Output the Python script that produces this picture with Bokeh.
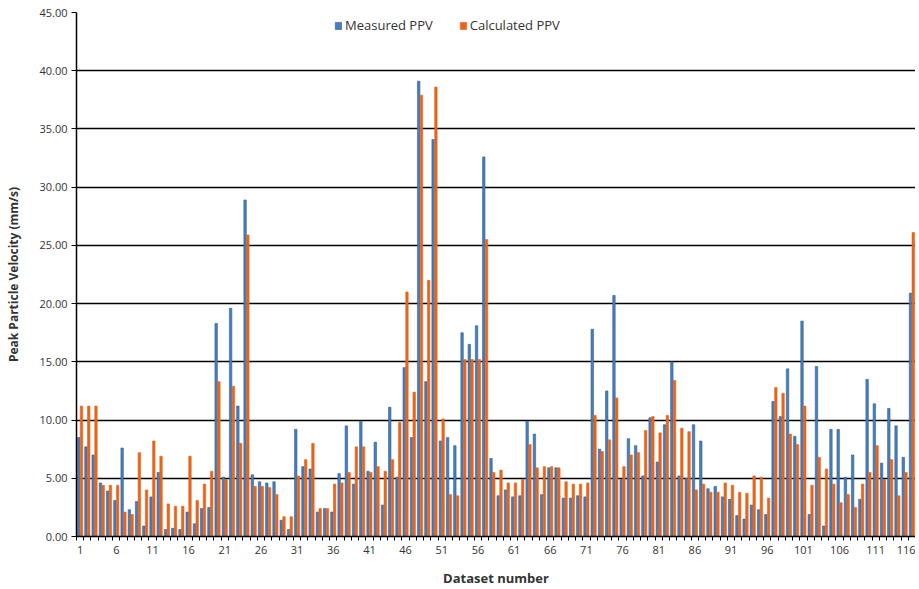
from bokeh.plotting import figure
from bokeh.models import ColumnDataSource, FixedTicker, Range1d, Legend, LegendItem, NumeralTickFormatter
from bokeh.embed import file_html
from bokeh.resources import INLINE

dataset = list(range(1, 117))
measured = [8.5, 7.7, 7.0, 4.6, 3.9, 3.1, 7.6, 2.3, 3.0, 0.9,
            3.4, 5.5, 0.6, 0.7, 0.6, 2.1, 1.1, 2.4, 2.5, 18.3,
            5.1, 19.6, 11.2, 28.9, 5.3, 4.7, 4.6, 4.7, 1.4, 0.6,
            9.2, 6.0, 5.8, 2.1, 2.4, 2.1, 5.4, 9.5, 4.5, 9.9,
            5.6, 8.1, 2.7, 11.1, 5.1, 14.5, 8.5, 39.1, 13.3, 34.1,
            8.2, 8.5, 7.8, 17.5, 16.5, 18.1, 32.6, 6.7, 3.5, 4.0,
            3.4, 3.5, 9.9, 8.8, 3.6, 5.9, 5.9, 3.3, 3.3, 3.5,
            3.4, 17.8, 7.5, 12.5, 20.7, 4.9, 8.4, 7.8, 5.2, 10.2,
            6.4, 9.6, 15.0, 5.2, 5.0, 9.6, 8.2, 4.1, 4.3, 3.4,
            3.2, 1.8, 1.5, 2.7, 2.3, 1.9, 11.6, 10.3, 14.4, 8.6,
            18.5, 1.9, 14.6, 0.9, 9.2, 9.2, 5.1, 7.0, 3.2, 13.5,
            11.4, 6.3, 11.0, 9.5, 6.8, 20.9]
calculated = [11.2, 11.2, 11.2, 4.4, 4.4, 4.4, 2.1, 1.9, 7.2, 4.0,
              8.2, 6.9, 2.8, 2.6, 2.6, 6.9, 3.1, 4.5, 5.6, 13.3,
              4.9, 12.9, 8.0, 25.9, 4.3, 4.3, 4.2, 3.6, 1.7, 1.7,
              5.2, 6.6, 8.0, 2.4, 2.4, 4.5, 4.6, 5.5, 7.7, 7.7,
              5.5, 6.0, 5.6, 6.6, 9.8, 21.0, 12.4, 37.9, 22.0, 38.6,
              10.1, 3.6, 3.5, 15.2, 15.2, 15.2, 25.5, 5.5, 5.7, 4.6,
              4.6, 4.9, 7.9, 5.9, 6.0, 6.0, 5.9, 4.7, 4.5, 4.5,
              4.6, 10.4, 7.3, 8.3, 11.9, 6.0, 7.0, 7.2, 9.1, 10.3,
              8.9, 10.4, 13.4, 9.3, 9.0, 4.0, 4.5, 3.8, 3.8, 4.6,
              4.4, 3.8, 3.7, 5.2, 5.1, 3.3, 12.8, 12.3, 8.8, 7.9,
              11.2, 4.4, 6.8, 5.8, 4.5, 2.9, 3.6, 2.5, 4.5, 5.5,
              7.8, 4.9, 6.6, 3.5, 5.5, 26.1]
x_tick_labels = list(range(1, 117, 5))
y_ticks = [0, 5, 10, 15, 20, 25, 30, 35, 40, 45]

src = ColumnDataSource(dict(
    xm=[d - 0.19 for d in dataset],
    xc=[d + 0.19 for d in dataset],
    measured=measured,
    calculated=calculated,
))

FONT = "Open Sans"

p = figure(width=915, height=589, output_backend="svg", toolbar_location=None,
           x_range=Range1d(0.5, 116.5), y_range=Range1d(0, 45),
           min_border_left=76, min_border_right=0, min_border_top=12, min_border_bottom=8)
p.outline_line_color = None
p.background_fill_color = "white"
p.border_fill_color = "white"

rm = p.vbar(x="xm", top="measured", width=0.34, source=src,
            fill_color="#4A7EBB", line_color="#2F5F96", line_width=0.6)
rc = p.vbar(x="xc", top="calculated", width=0.34, source=src,
            fill_color="#E8641B", line_color="#E8641B", line_width=0.6)

legend = Legend(items=[LegendItem(label="Measured PPV", renderers=[rm]),
                       LegendItem(label="Calculated PPV", renderers=[rc])],
                orientation="horizontal", location=(258, 502),
                border_line_color=None, background_fill_alpha=0,
                label_text_font=FONT, label_text_font_size="13px", label_text_color="#333333",
                glyph_width=8, glyph_height=9, spacing=26, padding=2, margin=0,
                label_standoff=3)
p.add_layout(legend, "center")

# axes
p.xaxis.ticker = FixedTicker(ticks=x_tick_labels,
                             minor_ticks=[d + 0.5 for d in [0] + dataset])
p.xaxis.major_tick_out = 0
p.xaxis.major_tick_in = 0
p.xaxis.minor_tick_out = 4
p.xaxis.minor_tick_in = 0
p.xaxis.minor_tick_line_color = "black"
p.xaxis.axis_line_color = "black"
p.xaxis.axis_line_width = 1.5
p.xaxis.major_label_text_font = FONT
p.xaxis.major_label_text_font_size = "11px"
p.xaxis.major_label_text_color = "#333333"
p.xaxis.major_label_standoff = 5
p.xaxis.axis_label = "Dataset number"
p.xaxis.axis_label_text_font = FONT
p.xaxis.axis_label_text_font_size = "13px"
p.xaxis.axis_label_text_font_style = "bold"
p.xaxis.axis_label_text_color = "#333333"
p.xaxis.axis_label_standoff = 12

p.yaxis.ticker = FixedTicker(ticks=y_ticks)
p.yaxis.formatter = NumeralTickFormatter(format="0.00")
p.yaxis.major_tick_out = 5
p.yaxis.major_tick_in = 0
p.yaxis.minor_tick_out = 0
p.yaxis.major_tick_line_color = "black"
p.yaxis.axis_line_color = "black"
p.yaxis.axis_line_width = 1.5
p.yaxis.major_label_text_font = FONT
p.yaxis.major_label_text_font_size = "11px"
p.yaxis.major_label_text_color = "#333333"
p.yaxis.major_label_standoff = 4
p.yaxis.axis_label = "Peak Particle Velocity (mm/s)"
p.yaxis.axis_label_text_font = FONT
p.yaxis.axis_label_text_font_size = "12px"
p.yaxis.axis_label_text_font_style = "bold"
p.yaxis.axis_label_text_color = "#333333"
p.yaxis.axis_label_standoff = 14

p.xgrid.grid_line_color = None
p.ygrid.ticker = FixedTicker(ticks=y_ticks)
p.ygrid.grid_line_color = "black"
p.ygrid.grid_line_width = 1.4
p.ygrid.level = "underlay"

open("out.html", "w").write(file_html(p, INLINE))
